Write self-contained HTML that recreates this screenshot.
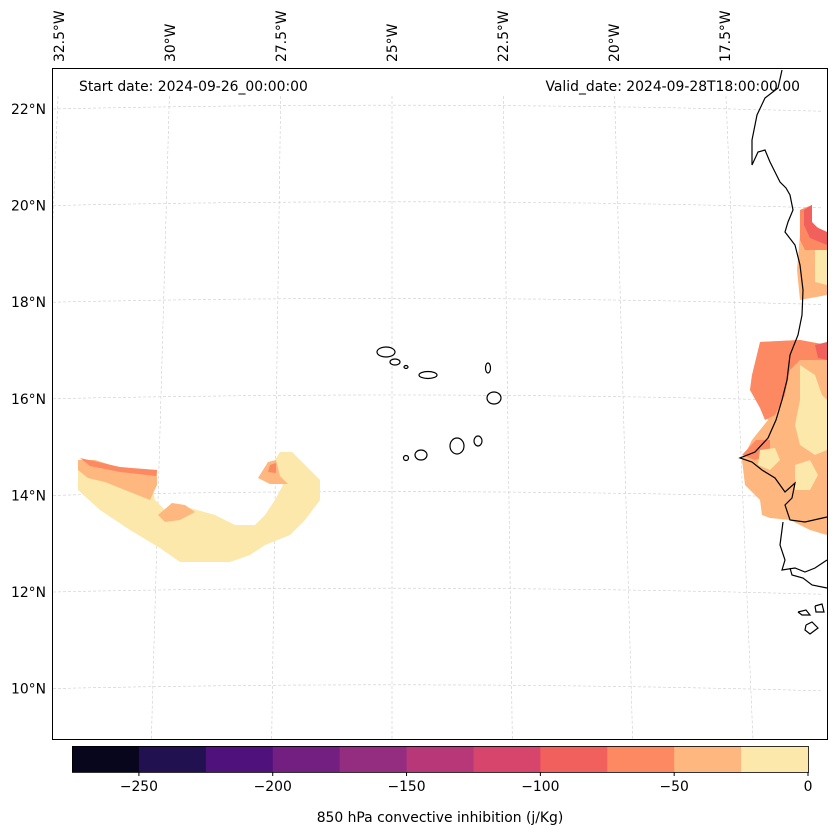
<!DOCTYPE html>
<html><head><meta charset="utf-8"><style>
body{margin:0;background:#fff;font-family:"DejaVu Sans","Liberation Sans",sans-serif}
svg text{font-family:"DejaVu Sans","Liberation Sans",sans-serif;font-size:13.9px;fill:#000}
</style></head><body>
<svg id="fig" width="837" height="836">
<defs><clipPath id="mapclip"><rect x="52.5" y="68.5" width="775" height="671"/></clipPath></defs>
<g id="grid" clip-path="url(#mapclip)"></g>
<g id="fills"></g>
<g id="coast"></g>
<rect x="52.5" y="68.5" width="775" height="671" fill="none" stroke="#000" stroke-width="1"/>
<text x="79" y="91">Start date: 2024-09-26_00:00:00</text>
<text x="800" y="91" text-anchor="end">Valid_date: 2024-09-28T18:00:00.00</text>
<g id="labels"></g>
<g id="cbar"></g>
<text x="440" y="822" text-anchor="middle">850 hPa convective inhibition (j/Kg)</text>
</svg>
<script>
const NS="http://www.w3.org/2000/svg";
const levels=[-275,-250,-225,-200,-175,-150,-125,-100,-75,-50,-25,0];
const colors=["#07061c","#221150","#4f117b","#721f81","#942c80","#b73779","#d8456c","#f1605d","#fc8961","#feb77e","#fce8aa"];
const cbTicks=[-250,-200,-150,-100,-50,0];
const latTicks=[22,20,18,16,14,12,10];
const lonTicks=[-32.5,-30,-27.5,-25,-22.5,-20,-17.5];
function mk(t,a,p){const e=document.createElementNS(NS,t);for(const k in a)e.setAttribute(k,a[k]);p.appendChild(e);return e;}
function latY(lat,x){return 395-(lat-16)*48.3+Math.pow((x-392)/390,2)*5;}
function lonX(lon,y){return 392+(lon+25)*46.2+(lon+25)*(y-395)*0.0056;}
const grid=document.getElementById('grid'),labels=document.getElementById('labels');
latTicks.forEach(l=>{let d="";for(let x=53;x<=827;x+=10)d+=(d?"L":"M")+x+","+latY(l,x).toFixed(1);
const p=mk('path',{d:d,stroke:"#ccc","stroke-width":0.6,"stroke-dasharray":"3,2",fill:"none"},grid);

const t=mk('text',{x:46,y:latY(l,53)+5,"text-anchor":"end"},labels);t.textContent=l+"°N";
});
lonTicks.forEach(l=>{const x1=lonX(l,96),x2=lonX(l,739);
const p=mk('line',{x1:x1,y1:96,x2:x2,y2:739,stroke:"#ccc","stroke-width":0.6,"stroke-dasharray":"3,2"},grid);

const tx=lonX(l,68)+5;const t=mk('text',{x:tx,y:62,transform:`rotate(-90 ${tx} 62)`},labels);t.textContent=(-l)+"°W";
});
const regions=[
[10,"78,460 95,460 120,468 150,478 155,500 170,515 190,508 215,515 235,525 255,525 265,515 275,500 283,485 270,468 280,452 292,452 305,465 320,480 320,500 305,520 290,535 265,545 250,555 230,562 180,562 160,548 130,530 100,510 78,490"],
[9,"78,460 95,460 120,468 157,470 157,485 150,500 130,492 105,482 88,478 78,470"],
[8,"80,458 120,467 157,470 156,476 120,472 90,466"],
[9,"158,515 172,503 185,505 195,512 180,520 165,522"],
[9,"268,462 276,460 280,476 288,484 270,484 258,478"],
[8,"270,465 276,463 276,473 268,472"],
[9,"760,342 800,340 827,345 827,535 810,530 790,520 770,518 762,515 760,500 745,485 742,460 752,440 768,420 762,405 750,390 752,375 760,360"],
[8,"760,342 800,340 827,345 827,360 800,360 790,370 785,395 775,415 765,420 760,408 750,390 752,375"],
[8,"742,455 756,440 770,440 770,455 755,460"],
[10,"800,365 815,375 822,395 827,400 827,450 815,455 800,445 795,425 800,400"],
[10,"760,450 775,448 780,460 770,470 758,465"],
[10,"795,465 810,460 818,475 810,490 795,490"],
[7,"815,345 827,342 827,360 818,358"],
[9,"800,210 812,205 812,225 827,232 827,295 800,300 797,270 800,235"],
[8,"800,210 812,205 812,225 827,232 827,250 805,250 800,240"],
[7,"804,210 812,205 812,222 818,228 827,232 827,245 810,238 804,225"],
[10,"815,250 827,250 827,285 815,282"]];
const fills=document.getElementById('fills');
regions.forEach(r=>{const p=mk('polygon',{points:r[1],fill:colors[r[0]]},fills);
});
const coast=document.getElementById('coast');
const coastLines=[
"782,70 778,88 765,98 757,115 752,140 752,165 758,152 765,150 770,162 775,172 780,182 786,188 790,195 793,210 788,222 785,232 795,245 800,265 803,290 802,315 798,335 790,355 787,380 782,400 776,420 768,438 755,452 740,458 752,462 762,470 775,478 785,492 795,483 792,498 785,505 790,520 805,522 827,517",
"783,522 780,545 785,560 782,570 795,568 805,572 815,568 827,560",
"790,568 792,575 803,578 812,585 827,588",
"798,612 806,610 810,615 802,615 798,612",
"806,625 812,622 818,628 810,634 805,630 806,625",
"815,606 822,604 824,612 816,612 815,606"];
coastLines.forEach(c=>{const p=mk('polyline',{points:c,fill:"none",stroke:"#000","stroke-width":1.2},coast);
});
const islands=[[386,352,9,5],[395,362,5,3],[406,367,2,1.5],[428,375,9,3.5],[488,368,2.5,5],[494,398,7,6],[406,458,2.5,2.5],[421,455,6,5],[457,446,7,8],[478,441,4,5]];
islands.forEach(i=>{const e=mk('ellipse',{cx:i[0],cy:i[1],rx:i[2],ry:i[3],fill:"#fff",stroke:"#000","stroke-width":1.2},coast);
});
const cb=document.getElementById('cbar');const cx0=72,cx1=808,cy=746,ch=26;
const vx=v=>cx0+(v-levels[0])/(levels[levels.length-1]-levels[0])*(cx1-cx0);
colors.forEach((c,i)=>{const r=mk('rect',{x:vx(levels[i]),y:cy,width:vx(levels[i+1])-vx(levels[i])+0.5,height:ch,fill:c},cb);
});
mk('rect',{x:cx0+0.5,y:cy+0.5,width:cx1-cx0,height:ch,fill:"none",stroke:"#000","stroke-width":0.8},cb);
cbTicks.forEach(v=>{mk('line',{x1:vx(v),y1:cy+ch,x2:vx(v),y2:cy+ch+4,stroke:"#000"},cb);
const t=mk('text',{x:vx(v),y:cy+ch+19,"text-anchor":"middle"},cb);t.textContent=v<0?"\u2212"+(-v):String(v);
});
</script>
</body></html>
